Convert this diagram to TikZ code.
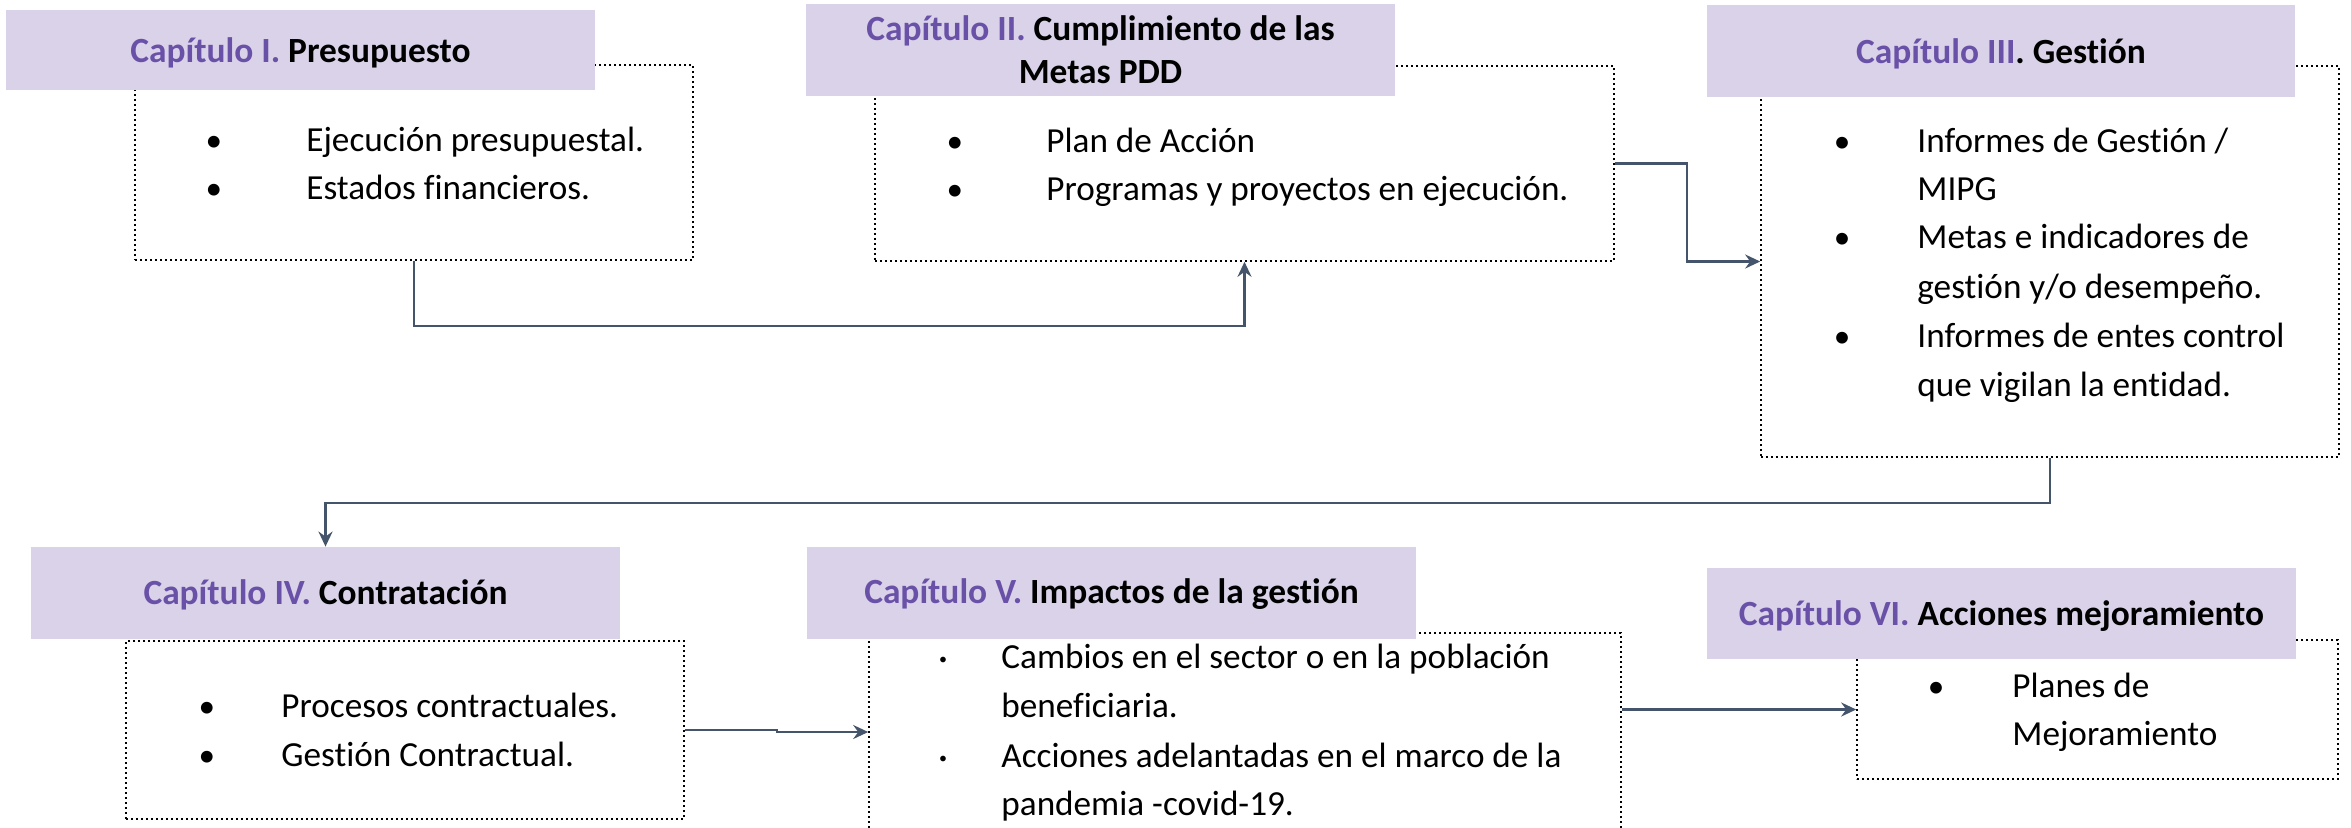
\documentclass[tikz,border=0pt]{standalone}
\usepackage{fontspec}
\setmainfont{Carlito}[Ligatures=NoCommon]
\usetikzlibrary{arrows.meta}
\definecolor{hdr}{HTML}{D9D2E9}
\definecolor{purp}{HTML}{6A51A8}
\definecolor{linkc}{HTML}{44546A}
\tikzset{
  dotbox/.style={draw=black, line width=0.8pt, dash pattern=on 0.8pt off 1.7pt, rectangle, inner sep=0pt},
  hdrbox/.style={fill=hdr, draw=none, rectangle, inner sep=0pt},
  ttl/.style={anchor=base, inner sep=0pt, font=\fontsize{17.7}{21.5}\selectfont\bfseries},
  body/.style={anchor=base west, inner sep=0pt, font=\fontsize{17.6}{24}\selectfont},
  bul/.style={anchor=base, inner sep=0pt, font=\fontsize{16.6}{24}\selectfont},
  smallbul/.style={anchor=center, inner sep=0pt, font=\fontsize{8}{9}\selectfont},
  link/.style={draw=linkc, line width=1.3pt, -{Stealth[length=7.5pt, width=7pt, inset=2.5pt]}},
}
\newcommand{\captxt}[1]{\textcolor{purp}{#1}}
\begin{document}
\begin{tikzpicture}[x=0.5pt, y=-0.5pt]
\useasboundingbox (0,0) rectangle (2351,827);
\clip (0,0) rectangle (2351,827);

% dotted content boxes
\node[dotbox, minimum width=279pt, minimum height=97.5pt] (b1) at (414,162.5) {};
\node[dotbox, minimum width=369.5pt, minimum height=97.5pt] (b2) at (1244.5,163.5) {};
\node[dotbox, minimum width=289pt, minimum height=195.5pt] (b3) at (2050,261.5) {};
\node[dotbox, minimum width=279pt, minimum height=89pt] (b4) at (405,730) {};
\node[dotbox, minimum width=376pt, minimum height=99pt] (b5) at (1245,732) {};
\node[dotbox, minimum width=240.5pt, minimum height=69.5pt] (b6) at (2097.5,709.5) {};

% headers
\node[hdrbox, minimum width=294.5pt, minimum height=40pt] (h1) at (300.5,50) {};
\node[hdrbox, minimum width=294.5pt, minimum height=46pt] (h2) at (1100.5,50) {};
\node[hdrbox, minimum width=294pt, minimum height=46pt] (h3) at (2001,51) {};
\node[hdrbox, minimum width=294.5pt, minimum height=46pt] (h4) at (325.5,593) {};
\node[hdrbox, minimum width=304.5pt, minimum height=46pt] (h5) at (1111.5,593) {};
\node[hdrbox, minimum width=294.5pt, minimum height=45.5pt] (h6) at (2001.5,613.5) {};

% titles
\node[ttl] (t1) at (300.5,62) {\captxt{Capítulo I.} Presupuesto};
\node[ttl] (t2a) at (1100.5,40) {\captxt{Capítulo II.} Cumplimiento de las};
\node[ttl] (t2b) at (1100.5,83) {Metas PDD};
\node[ttl] (t3) at (2001,63) {\captxt{Capítulo III}. Gestión};
\node[ttl] (t4) at (325.5,604) {\captxt{Capítulo IV.} Contratación};
\node[ttl] (t5) at (1111.5,603) {\captxt{Capítulo V.} Impactos de la gestión};
\node[ttl] (t6) at (2001.5,625) {\captxt{Capítulo VI.} Acciones mejoramiento};

% box I
\node[bul] (p1a) at (214,151) {•};
\node[bul] (p1b) at (214,199) {•};
\node[body] (x1a) at (306,151) {Ejecución presupuestal.};
\node[body] (x1b) at (306,199) {Estados financieros.};

% box II
\node[bul] (p2a) at (955,152) {•};
\node[bul] (p2b) at (955,200) {•};
\node[body] (x2a) at (1046,152) {Plan de Acción};
\node[body] (x2b) at (1046,200) {Programas y proyectos en ejecución.};

% box III
\node[bul] (p3a) at (1842,152) {•};
\node[bul] (p3b) at (1842,248) {•};
\node[bul] (p3c) at (1842,347) {•};
\node[body] (x3a) at (1917,152) {Informes de Gestión /};
\node[body] (x3b) at (1917,200) {MIPG};
\node[body] (x3c) at (1917,248) {Metas e indicadores de};
\node[body] (x3d) at (1917,298) {gestión y/o desempeño.};
\node[body] (x3e) at (1917,347) {Informes de entes control};
\node[body] (x3f) at (1917,396) {que vigilan la entidad.};

% box IV
\node[bul] (p4a) at (207,717) {•};
\node[bul] (p4b) at (207,766) {•};
\node[body] (x4a) at (281,717) {Procesos contractuales.};
\node[body] (x4b) at (281,766) {Gestión Contractual.};

% box V
\node[smallbul] (p5a) at (943,661) {•};
\node[smallbul] (p5b) at (943,760) {•};
\node[body] (x5a) at (1001,668) {Cambios en el sector o en la población};
\node[body] (x5b) at (1001,717) {beneficiaria.};
\node[body] (x5c) at (1001,767) {Acciones adelantadas en el marco de la};
\node[body] (x5d) at (1001,815) {pandemia -covid-19.};

% box VI
\node[bul] (p6a) at (1936,697) {•};
\node[body] (x6a) at (2012,697) {Planes de};
\node[body] (x6b) at (2012,745) {Mejoramiento};

% connectors
\draw[link] (b1.south) -- ++(0,65) -| (b2.south);
\draw[link] (b2.east) -- ++(72,0) |- (b3.west);
\draw[link] (b3.south) -- ++(0,45) -| (h4.north);
\draw[link] (b4.east) -- ++(92,0) |- (b5.west);
\draw[link] (b6.west -| b5.east) -- (b6.west);
\end{tikzpicture}
\end{document}
